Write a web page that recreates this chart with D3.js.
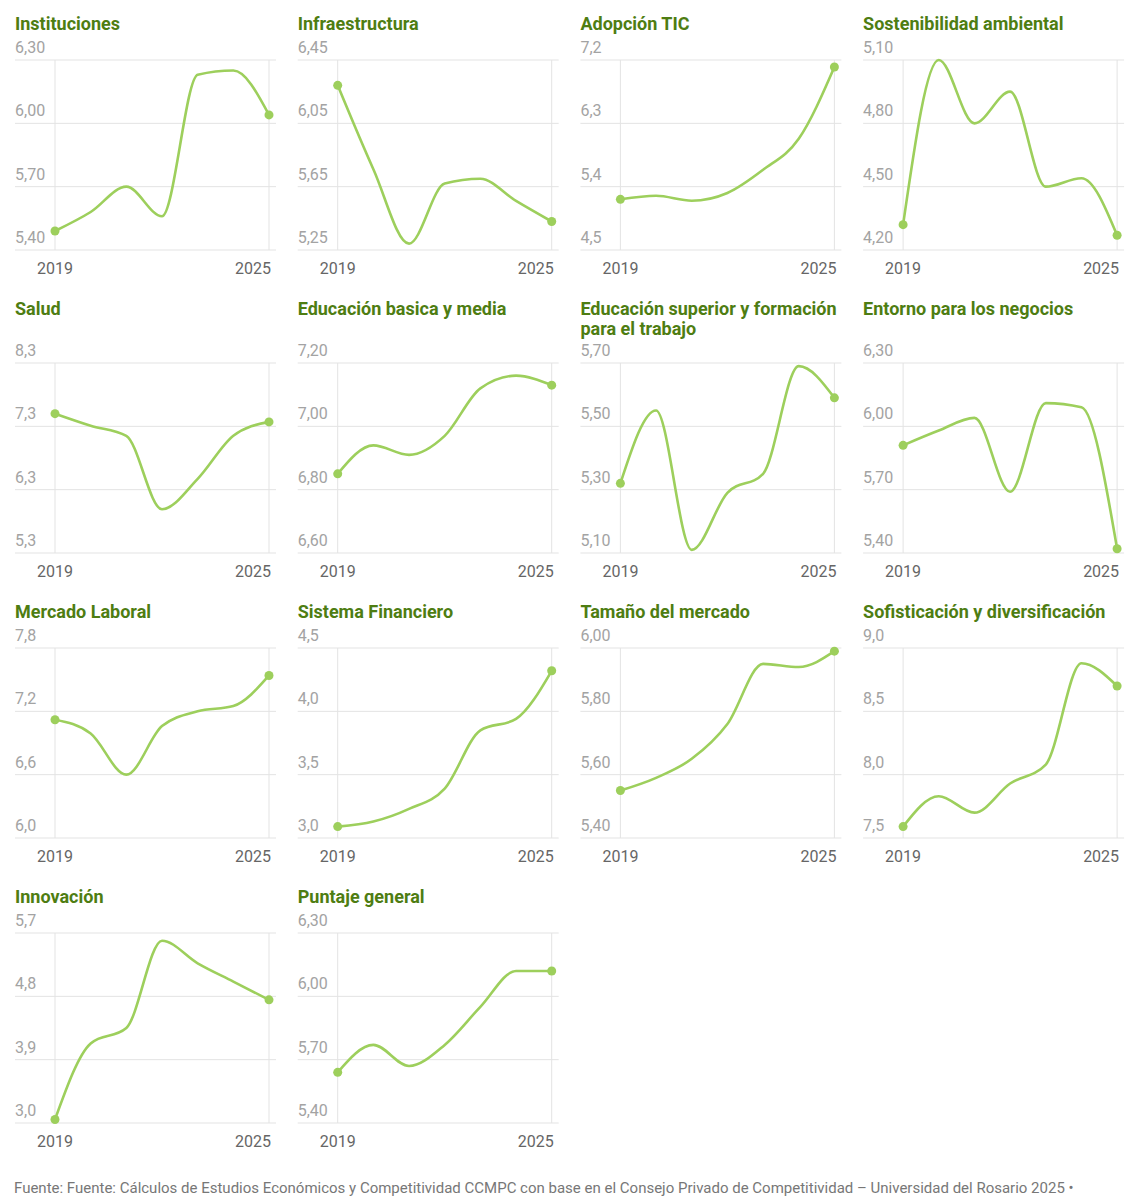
<!DOCTYPE html>
<html>
<head>
	<meta charset="utf-8">
	<title></title>
	<style>
		body { margin: 0; background: #fff; }
		svg text { font-family: Roboto, "Noto Sans", sans-serif; }
	</style>
</head>
<body>
	<svg id="chart" width="1137" height="1200"></svg>
<script src="https://cdnjs.cloudflare.com/ajax/libs/d3/7.8.5/d3.min.js"></script>
<script>
	// años del eje x
	var years = [2019, 2020, 2021, 2022, 2023, 2024, 2025];

	// titulos de cada panel
	var titles = [
		["Instituciones"], ["Infraestructura"], ["Adopción TIC"], ["Sostenibilidad ambiental"],
		["Salud"], ["Educación basica y media"], ["Educación superior y formación", "para el trabajo"], ["Entorno para los negocios"],
		["Mercado Laboral"], ["Sistema Financiero"], ["Tamaño del mercado"], ["Sofisticación y diversificación"],
		["Innovación"], ["Puntaje general"]
	];

	// valores por pilar (2019 - 2025)
	var instituciones   = [5.49, 5.58, 5.70, 5.56, 6.23, 6.25, 6.04];
	var infraestructura = [6.29, 5.76, 5.29, 5.67, 5.70, 5.56, 5.43];
	var adopcionTic     = [5.22, 5.27, 5.20, 5.31, 5.64, 6.08, 7.10];
	var sostenibilidad  = [4.32, 5.10, 4.80, 4.95, 4.50, 4.54, 4.27];
	var salud           = [7.50, 7.31, 7.15, 5.99, 6.47, 7.15, 7.37];
	var eduBasica       = [6.85, 6.94, 6.91, 6.97, 7.12, 7.16, 7.13];
	var eduSuperior     = [5.32, 5.55, 5.11, 5.29, 5.35, 5.69, 5.59];
	var entorno         = [5.91, 5.98, 6.04, 5.69, 6.11, 6.09, 5.42];
	var mercadoLaboral  = [7.12, 6.99, 6.60, 7.06, 7.20, 7.25, 7.54];
	var sistemaFin      = [3.09, 3.13, 3.23, 3.39, 3.85, 3.94, 4.32];
	var tamanoMercado   = [5.55, 5.59, 5.65, 5.76, 5.95, 5.94, 5.99];
	var sofisticacion   = [7.59, 7.83, 7.70, 7.93, 8.08, 8.88, 8.70];
	var innovacion      = [3.05, 4.13, 4.35, 5.59, 5.27, 5.01, 4.75];
	var puntajeGeneral  = [5.64, 5.77, 5.67, 5.77, 5.95, 6.12, 6.12];

	var series = [instituciones, infraestructura, adopcionTic, sostenibilidad,
		salud, eduBasica, eduSuperior, entorno,
		mercadoLaboral, sistemaFin, tamanoMercado, sofisticacion,
		innovacion, puntajeGeneral];

	// etiquetas del eje y (de abajo hacia arriba)
	var yTickLabels = [
		["5,40", "5,70", "6,00", "6,30"], ["5,25", "5,65", "6,05", "6,45"], ["4,5", "5,4", "6,3", "7,2"], ["4,20", "4,50", "4,80", "5,10"],
		["5,3", "6,3", "7,3", "8,3"], ["6,60", "6,80", "7,00", "7,20"], ["5,10", "5,30", "5,50", "5,70"], ["5,40", "5,70", "6,00", "6,30"],
		["6,0", "6,6", "7,2", "7,8"], ["3,0", "3,5", "4,0", "4,5"], ["5,40", "5,60", "5,80", "6,00"], ["7,5", "8,0", "8,5", "9,0"],
		["3,0", "3,9", "4,8", "5,7"], ["5,40", "5,70", "6,00", "6,30"]
	];

	var fuente = "Fuente: Fuente: Cálculos de Estudios Económicos y Competitividad CCMPC con base en el Consejo Privado de Competitividad – Universidad del Rosario 2025 •";

	/* layout */
	var svg = d3.select("#chart");
	var ncol = 4, colStep = 282.7, left = 15;
	var plotH = 190;
	var lineColor = "#9dcf5c", titleColor = "#4e7d12", gridColor = "#e3e3e3";

	var line = d3.line()
		.x(function(d){ return d.x; })
		.y(function(d){ return d.y; })
		.curve(d3.curveMonotoneX);

	var rowTop = 14;
	for (var r = 0; r * ncol < series.length; r++) {
		var idx = d3.range(r * ncol, Math.min(series.length, (r + 1) * ncol));
		var nLines = d3.max(idx, function(i){ return titles[i].length; });
		var plotTop = rowTop + 46 + 18 * (nLines - 1);

		idx.forEach(function(i, c){
			var x0 = left + c * colStep;
			var g = svg.append("g").attr("transform", "translate(" + x0 + ",0)");
			var ticks = yTickLabels[i].map(function(t){ return +t.replace(",", "."); });

			var x = d3.scaleLinear().domain([years[0], years[years.length - 1]]).range([40, 254]);
			var y = d3.scaleLinear().domain([ticks[0], ticks[ticks.length - 1]]).range([plotTop + plotH, plotTop]);

			// titulo
			g.append("text")
				.attr("fill", titleColor)
				.style("font-size", "18px")
				.style("font-weight", "bold")
				.selectAll("tspan")
				.data(titles[i])
				.enter()
				.append("tspan")
				.attr("x", 0)
				.attr("y", function(d, k){ return rowTop + 16 + k * 20; })
				.text(function(d){ return d; });

			// grilla horizontal + etiquetas
			g.selectAll(".grid")
				.data(ticks)
				.enter()
				.append("line")
				.attr("x1", 0).attr("x2", 261)
				.attr("y1", function(d){ return y(d); })
				.attr("y2", function(d){ return y(d); })
				.attr("stroke", gridColor)
				.attr("stroke-width", 1);

			g.selectAll(".ylab")
				.data(ticks)
				.enter()
				.append("text")
				.attr("x", 0)
				.attr("y", function(d){ return y(d) - 7; })
				.attr("fill", "#a3a3a3")
				.style("font-size", "16px")
				.text(function(d, k){ return yTickLabels[i][k]; });

			// lineas verticales 2019 / 2025
			var ends = [years[0], years[years.length - 1]];
			g.selectAll(".vgrid")
				.data(ends)
				.enter()
				.append("line")
				.attr("x1", function(d){ return x(d); })
				.attr("x2", function(d){ return x(d); })
				.attr("y1", plotTop)
				.attr("y2", plotTop + plotH)
				.attr("stroke", gridColor);

			g.selectAll(".xlab")
				.data(ends)
				.enter()
				.append("text")
				.attr("x", function(d, k){ return k == 0 ? x(d) : x(d) + 2; })
				.attr("y", plotTop + plotH + 24)
				.attr("text-anchor", function(d, k){ return k == 0 ? "middle" : "end"; })
				.attr("fill", "#666")
				.style("font-size", "16px")
				.text(function(d){ return d; });

			// serie
			var pts = series[i].map(function(v, k){ return {x: x(years[k]), y: y(v)}; });
			g.append("path")
				.attr("d", line(pts))
				.attr("fill", "none")
				.attr("stroke", lineColor)
				.attr("stroke-width", 2.6)
				.attr("stroke-linejoin", "round");

			g.selectAll(".dot")
				.data([pts[0], pts[pts.length - 1]])
				.enter()
				.append("circle")
				.attr("cx", function(d){ return d.x; })
				.attr("cy", function(d){ return d.y; })
				.attr("r", 4.5)
				.attr("fill", lineColor);
		});

		rowTop = plotTop + plotH + 49;
	}

	// fuente
	svg.append("text")
		.attr("x", 14)
		.attr("y", 1193)
		.attr("fill", "#777")
		.style("font-size", "15px")
		.text(fuente);
</script>
</body>
</html>
